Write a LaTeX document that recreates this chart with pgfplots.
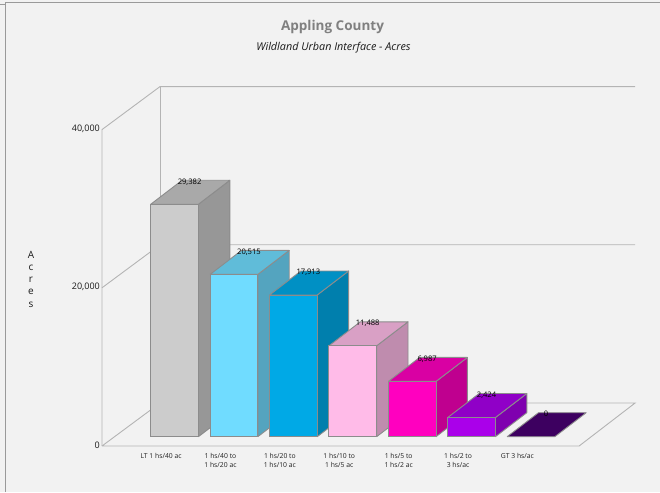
\documentclass[border=0pt]{standalone}
\usepackage{fontspec}
\setmainfont{Open Sans}
\usepackage{pgfplots}
\pgfplotsset{compat=1.18}

\definecolor{panel}{HTML}{F2F2F2}
\definecolor{wall}{HTML}{B4B4B4}
\definecolor{frame}{HTML}{9A9A9A}
\definecolor{edge}{HTML}{8C8C8C}
\definecolor{titlegray}{HTML}{808080}

% Face colours per category: front, top, side
\definecolor{lowF}{HTML}{CCCCCC}\definecolor{lowT}{HTML}{A9A9A9}\definecolor{lowS}{HTML}{979797}
\definecolor{skyF}{HTML}{70DCFF}\definecolor{skyT}{HTML}{60BCD9}\definecolor{skyS}{HTML}{54A4BF}
\definecolor{bluF}{HTML}{00A9E6}\definecolor{bluT}{HTML}{0090C4}\definecolor{bluS}{HTML}{007FAD}
\definecolor{pnkF}{HTML}{FFBBE8}\definecolor{pnkT}{HTML}{D9A0C5}\definecolor{pnkS}{HTML}{BF8CAE}
\definecolor{magF}{HTML}{FF00BF}\definecolor{magT}{HTML}{D900A3}\definecolor{magS}{HTML}{BF008F}
\definecolor{purF}{HTML}{AA00EA}\definecolor{purT}{HTML}{9000C7}\definecolor{purS}{HTML}{7F00AF}
\definecolor{drkT}{HTML}{3D0060}

% Depth of a bar in axis units, half its width, and the lift of its base above the floor edge
\newcommand{\halfw}{0.4015}
\newcommand{\depthx}{0.5286}
\newcommand{\depthy}{3034}
\newcommand{\baselift}{9.3pt}

% One extruded bar: category position, value, colour prefix
\newcommand{\extrudedbar}[3]{%
  \edef\xa{\fpeval{#1-\halfw}}%
  \edef\xb{\fpeval{#1+\halfw}}%
  \edef\xc{\fpeval{#1+\halfw+\depthx}}%
  \edef\xd{\fpeval{#1-\halfw+\depthx}}%
  \edef\yt{\fpeval{#2+\depthy}}%
  \addplot[draw=edge, line width=0.9pt, fill=#3S, yshift=\baselift, line join=round]
    coordinates {(\xb,0) (\xb,#2) (\xc,\yt) (\xc,\depthy) (\xb,0)};
  \addplot[draw=edge, line width=0.9pt, fill=#3T, yshift=\baselift, line join=round]
    coordinates {(\xa,#2) (\xb,#2) (\xc,\yt) (\xd,\yt) (\xa,#2)};
  \addplot[draw=edge, line width=0.9pt, fill=#3F, yshift=\baselift, line join=round]
    coordinates {(\xa,0) (\xb,0) (\xb,#2) (\xa,#2) (\xa,0)};
}

\begin{document}
\begin{tikzpicture}
\useasboundingbox (0,0) rectangle (660pt,492pt);
\fill[panel] (0,0) rectangle (660pt,492pt);
\begin{axis}[
  at={(0,0)}, anchor=south west,
  scale only axis, width=660pt, height=492pt,
  xmin=-2.9386, xmax=8.1725,
  ymin=-5815, ymax=56384,
  clip=false,
  axis line style={draw=none},
  tick style={draw=none},
  xtick={0,1,2,3,4,5,6},
  xticklabels={LT 1 hs/40 ac, {1 hs/40 to\\1 hs/20 ac}, {1 hs/20 to\\1 hs/10 ac},
    {1 hs/10 to\\1 hs/5 ac}, {1 hs/5 to\\1 hs/2 ac}, {1 hs/2 to\\3 hs/ac}, GT 3 hs/ac},
  xticklabel style={font=\fontsize{6.8}{9}\selectfont, align=center, anchor=north,
    text=black!88, xshift=-13.5pt, yshift=42.5pt},
  ytick={0,20000,40000},
  scaled y ticks=false,
  yticklabel style={font=\fontsize{9}{10}\selectfont, anchor=east, xshift=100pt, yshift=1.2pt,
    text=black!90, inner sep=0pt, /pgf/number format/assume math mode=true,
    /pgf/number format/fixed, /pgf/number format/1000 sep={,}},
  ylabel={A\\[1.7pt]c\\[1.7pt]r\\[1.7pt]e\\[1.7pt]s},
  ylabel style={rotate=-90, at={(axis description cs:0.047,0.4325)}, anchor=center,
    align=center, font=\fontsize{10}{10.5}\selectfont, text=black!90},
]
% Floor and the two walls
\addplot[draw=wall, line width=0.9pt] coordinates
  {(-1.2214,0) (6.8106,0) (7.7533,5436) (-0.2451,5436) (-1.2214,0)};
\addplot[draw=wall, line width=0.9pt] coordinates
  {(-1.2214,0) (-1.2214,40000) (-0.2451,45436) (7.7533,45436)};
\addplot[draw=wall, line width=0.9pt] coordinates
  {(-1.2214,20000) (-0.2451,25436) (7.7533,25436)};
\addplot[draw=wall, line width=0.9pt] coordinates
  {(-0.2451,5436) (-0.2451,45436)};

% Bars in category order
\extrudedbar{0}{29382}{low}
\extrudedbar{1}{20515}{sky}
\extrudedbar{2}{17913}{blu}
\extrudedbar{3}{11488}{pnk}
\extrudedbar{4}{6987}{mag}
\extrudedbar{5}{2424}{pur}
% The empty category has a top face only
\addplot[draw=edge, line width=0.9pt, fill=drkT, yshift=\baselift, line join=round]
  coordinates {(5.5985,0) (6.4015,0) (6.9301,3034) (6.1271,3034) (5.5985,0)};

% Value labels sitting on the rear edge of each bar top
\addplot[draw=none, mark=none, point meta=explicit symbolic,
  nodes near coords,
  every node near coord/.append style={anchor=center, xshift=15pt, yshift=31.8pt,
    font=\fontsize{7.6}{8}\selectfont, text=black, inner sep=0pt}]
  table[x=x, y=y, meta=label, col sep=space] {
  x y label
  0 29382 29,382
  1 20515 20,515
  2 17913 17,913
  3 11488 11,488
  4 6987 6,987
  5 2424 2,424
  6 0 0
};

\node[font=\fontsize{13.5}{15}\bfseries\selectfont, text=titlegray]
  at (axis description cs:0.5038,0.9460) {Appling County};
\node[font=\fontsize{10.8}{12}\itshape\selectfont, text=black!90]
  at (axis description cs:0.5053,0.9040) {Wildland Urban Interface - Acres};
\end{axis}
% Outer panel border
\draw[frame, line width=1pt] (5.5pt,0) -- (5.5pt,489.5pt) -- (660pt,489.5pt);
\draw[frame, line width=1pt] (0,487pt) -- (5.5pt,487pt);
\end{tikzpicture}
\end{document}
